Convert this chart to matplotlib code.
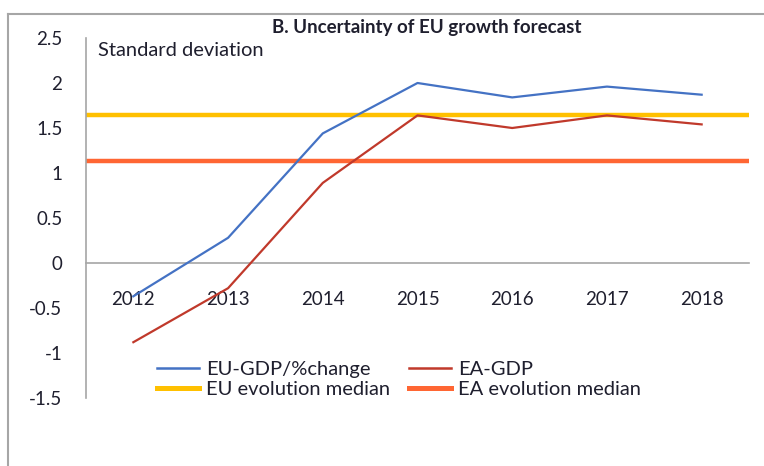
import matplotlib

matplotlib.use("Agg")
import matplotlib.pyplot as plt
from matplotlib.lines import Line2D

YEARS = ["2012", "2013", "2014", "2015", "2016", "2017", "2018"]
EU_GDP = [-0.37, 0.28, 1.44, 2.00, 1.84, 1.96, 1.87]
EA_GDP = [-0.88, -0.28, 0.89, 1.64, 1.50, 1.64, 1.54]
EU_MEDIAN = 1.65
EA_MEDIAN = 1.13
Y_TICKS = [-1.5, -1, -0.5, 0, 0.5, 1, 1.5, 2, 2.5]
Y_TICK_LABELS = ["-1.5", "-1", "-0.5", "0", "0.5", "1", "1.5", "2", "2.5"]

BLUE = "#4472c4"
RED = "#c0392b"
YELLOW = "#ffc000"
ORANGE = "#ff6633"
AXIS_GREY = "#a6a6a6"
INK = "#1f1f2e"

plt.rcParams["font.family"] = ["Lato", "DejaVu Sans"]
plt.rcParams["text.color"] = INK

fig = plt.figure(figsize=(7.64, 4.66), dpi=100)
ax = fig.add_axes([86 / 764, 1 - 398 / 466, (749 - 86) / 764, (398 - 38) / 466])

x = list(range(len(YEARS)))
ax.plot(x, EU_GDP, color=BLUE, linewidth=1.6, label="EU-GDP/%change", zorder=3)
ax.plot(x, EA_GDP, color=RED, linewidth=1.6, label="EA-GDP", zorder=3)
ax.axhline(EU_MEDIAN, xmin=0, xmax=0.997, color=YELLOW, linewidth=3.2, label="EU evolution median", zorder=2)
ax.axhline(EA_MEDIAN, color=ORANGE, linewidth=3.2, label="EA evolution median", zorder=2)

ax.set_xlim(-0.5, len(YEARS) - 0.5)
ax.set_ylim(-1.5, 2.5)
ax.set_xticks(x)
ax.set_xticklabels(YEARS)
ax.set_yticks(Y_TICKS)
ax.set_yticklabels(Y_TICK_LABELS)
ax.tick_params(axis="both", length=0, labelsize=13.5, colors=INK)
ax.tick_params(axis="y", pad=17)
ax.tick_params(axis="x", pad=20)

for side in ("top", "right"):
    ax.spines[side].set_visible(False)
ax.spines["bottom"].set_position(("data", 0))
ax.spines["bottom"].set_color(AXIS_GREY)
ax.spines["left"].set_color(AXIS_GREY)
ax.spines["bottom"].set_linewidth(1.2)
ax.spines["left"].set_linewidth(1.2)
ax.set_facecolor("none")

ax.text(0.018, 0.99, "Standard deviation", transform=ax.transAxes, fontsize=14.5, va="top", ha="left")
fig.text(427 / 764, 1 - 28 / 466, "B. Uncertainty of EU growth forecast", fontsize=13.5,
         fontweight="bold", ha="center", va="center")

handles = [
    Line2D([], [], color=BLUE, linewidth=1.8),
    Line2D([], [], color=YELLOW, linewidth=3.6),
    Line2D([], [], color=RED, linewidth=1.8),
    Line2D([], [], color=ORANGE, linewidth=3.6),
]
labels = ["EU-GDP/%change", "EU evolution median", "EA-GDP", "EA evolution median"]
fig.legend(handles, labels, loc="upper left", bbox_to_anchor=(157 / 764, 1 - 361 / 466), ncol=2,
           frameon=False, fontsize=14.5, handlelength=2.1, handletextpad=0.35, labelspacing=0.12,
           columnspacing=0.9, borderpad=0, borderaxespad=0)

# outer chart frame (left and top edges visible)
fig.add_artist(Line2D([8 / 764, 8 / 764], [0, 1 - 14 / 466], transform=fig.transFigure,
                      color=AXIS_GREY, linewidth=1.5))
fig.add_artist(Line2D([8 / 764, 1], [1 - 14 / 466, 1 - 14 / 466], transform=fig.transFigure,
                      color=AXIS_GREY, linewidth=1.5))

fig.savefig("out.png", dpi=100, facecolor="white")
